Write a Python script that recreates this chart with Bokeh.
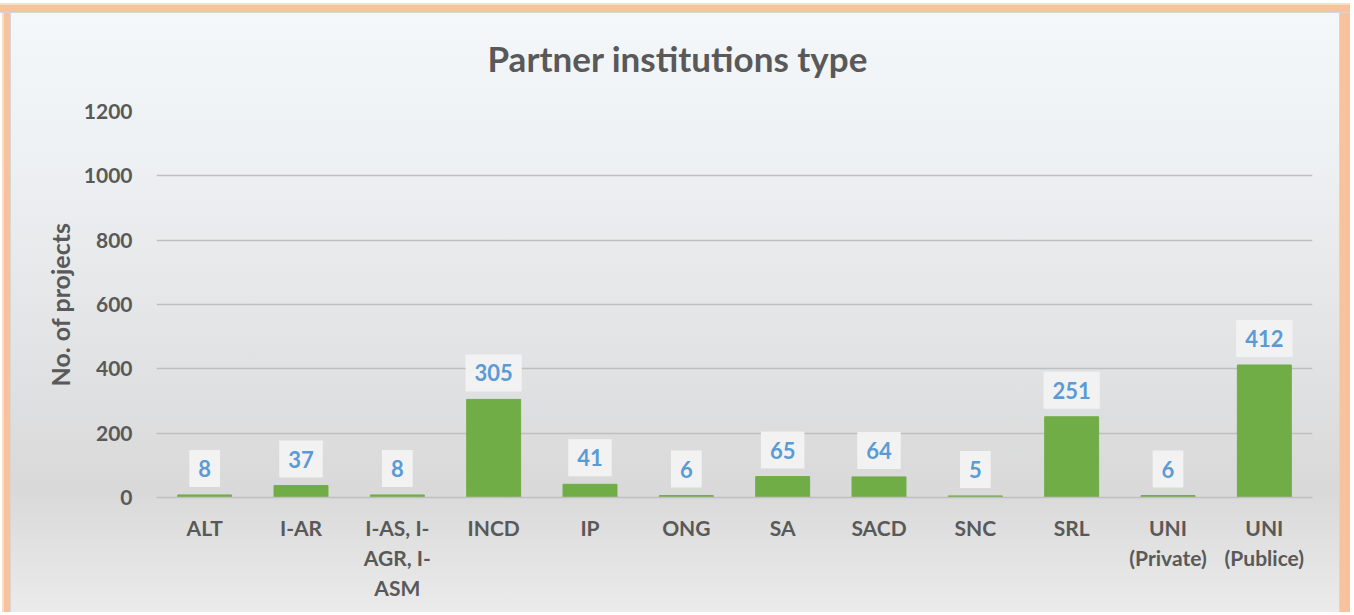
from bokeh.plotting import figure
from bokeh.models import ColumnDataSource, FactorRange
from bokeh.embed import file_html
from bokeh.resources import INLINE
from bokeh.core.properties import value

categories = ["ALT", "I-AR", "I-AS, I-\nAGR, I-\nASM", "INCD", "IP", "ONG", "SA", "SACD",
              "SNC", "SRL", "UNI\n(Private)", "UNI\n(Publice)"]
projects = [8, 37, 8, 305, 41, 6, 65, 64, 5, 251, 6, 412]
y_ticks = [0, 200, 400, 600, 800, 1000, 1200]

TXT = "#595959"
FONT = "Lato"

src = ColumnDataSource(dict(cat=categories, val=projects, lab=[str(v) for v in projects]))

p = figure(x_range=FactorRange(*categories), y_range=(0, 1200),
           width=1350, height=612, output_backend="svg", toolbar_location=None,
           title="Partner institutions type")
p.min_border_left = 156
p.min_border_right = 38
p.min_border_bottom = 115
p.min_border_top = 111

ORG = "#F8C29C"
PALE = "#FCDCC6"
EDGE = "#D6D6D6"
p.styles = {
    "background": "linear-gradient(180deg, #F5F8FB 0%, #EEF1F3 25%, #E3E4E6 55%, #D9D9D9 80%, #EBEBEB 100%)",
    "box-shadow": (f"inset 0 3px 0 0 #FFFFFF, inset 0 5px 0 0 {PALE}, inset 0 12px 0 0 {ORG}, inset 0 13px 0 0 {EDGE}, "
                   f"inset 2px 0 0 0 #FFFFFF, inset 4px 0 0 0 {PALE}, inset 10px 0 0 0 {ORG}, inset 11px 0 0 0 {EDGE}, "
                   f"inset -10px 0 0 0 {ORG}, inset -11px 0 0 0 {EDGE}"),
}
p.border_fill_color = None
p.background_fill_color = None
p.outline_line_color = None

p.title.align = "left"
p.title.offset = 331
p.title.text_font = FONT
p.title.text_font_size = "35px"
p.title.text_font_style = "bold"
p.title.text_color = TXT
p.title.standoff = 66

p.vbar(x="cat", top="val", width=0.56, source=src, color="#70AD47")

p.text(x="cat", y="val", text="lab", source=src, text_align="center", text_baseline="bottom",
       text_font=value(FONT), text_font_size="22px", text_font_style="bold", text_color="#5B9BD5",
       y_offset=-8, background_fill_color="#F2F2F2", padding=(9, 10))

p.yaxis.ticker = y_ticks
p.ygrid.ticker = y_ticks
p.ygrid.grid_line_color = "#BFBFBF"
p.ygrid.grid_line_width = 1.5
p.xgrid.grid_line_color = None

p.yaxis.axis_line_color = None
p.yaxis.major_tick_line_color = None
p.yaxis.minor_tick_line_color = None
p.yaxis.major_label_standoff = 18
p.yaxis.axis_label = "No. of projects"
p.yaxis.axis_label_standoff = 6
p.yaxis.axis_label_text_font = FONT
p.yaxis.axis_label_text_font_size = "25px"
p.yaxis.axis_label_text_font_style = "bold"
p.yaxis.axis_label_text_color = TXT

p.xaxis.axis_line_color = "#BFBFBF"
p.xaxis.axis_line_width = 1.5
p.xaxis.major_tick_line_color = None
p.xaxis.minor_tick_line_color = None
p.xaxis.major_label_standoff = 11

for ax in (p.xaxis, p.yaxis):
    ax.major_label_text_font = FONT
    ax.major_label_text_font_size = "21px"
    ax.major_label_text_font_style = "bold"
    ax.major_label_text_color = TXT

open("out.html", "w").write(file_html(p, INLINE))
